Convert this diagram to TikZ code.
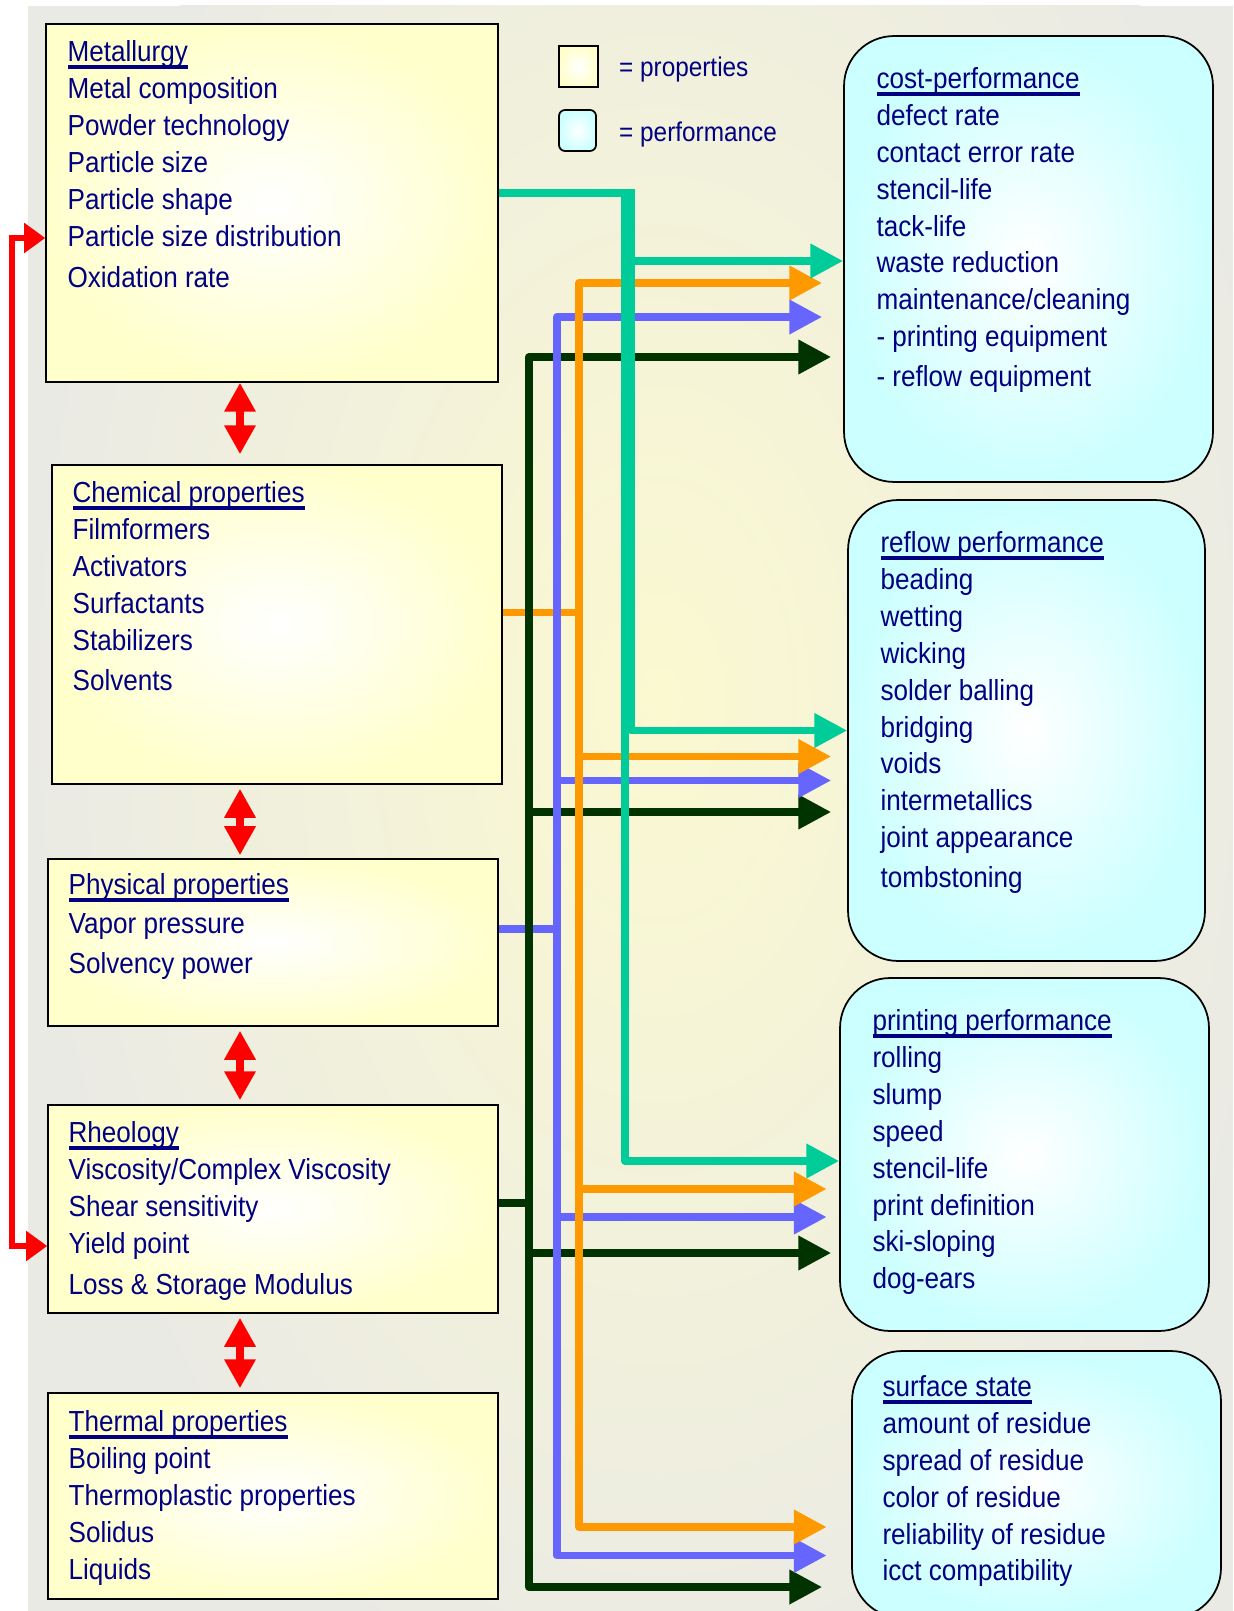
\documentclass[tikz,border=0pt]{standalone}
\usepackage{fontspec}
\setmainfont{Liberation Sans}[FakeStretch=0.9]
\usetikzlibrary{
    calc,
    arrows.meta
}
\definecolor{textNavy}{RGB}{0, 0, 128}
\definecolor{bgGray}{RGB}{234, 234, 229}
\definecolor{bgGlow}{RGB}{251, 249, 208}
\definecolor{propFill}{RGB}{255, 255, 204}
\definecolor{perfFill}{RGB}{204, 255, 255}
\definecolor{flowTeal}{RGB}{0, 204, 153}
\definecolor{flowOrange}{RGB}{255, 153, 0}
\definecolor{flowBlue}{RGB}{102, 102, 255}
\definecolor{flowGreen}{RGB}{0, 51, 0}
\definecolor{linkRed}{RGB}{255, 0, 0}

% underlined heading line
\newsavebox{\headbox}
\newcommand{\headline}[1]{\sbox{\headbox}{#1}\rlap{\rule[-4.3pt]{\wd\headbox}{2.1pt}}\usebox{\headbox}}

\tikzset{
    propbox/.style={draw=black, line width=0.9pt, inner color=white, outer color=propFill},
    perfbox/.style={draw=black, line width=1pt, rounded corners=1cm, inner color=white, outer color=perfFill},
    itemlist/.style={anchor=north west, inner sep=0pt, align=left, text=textNavy,
        font=\fontsize{16.5}{21}\selectfont},
    keytext/.style={anchor=base west, inner sep=0pt, text=textNavy,
        font=\fontsize{15.4}{18}\selectfont},
    flow/.style={line width=4.3pt, line join=round},
    linkarrow/.style={linkRed, line width=4pt,
        {Triangle[length=16.5pt, width=17pt]}-{Triangle[length=16.5pt, width=17pt]}},
    railarrow/.style={linkRed, line width=3.4pt, line join=miter,
        {Triangle[length=12pt, width=16.5pt]}-{Triangle[length=12pt, width=16.5pt]}}
}

\begin{document}
\begin{tikzpicture}[x=0.02cm, y=-0.02cm, >={Triangle[length=18.7pt, width=18.7pt]}]
        \useasboundingbox (0,0) rectangle (1233,1611);

        % Background
        \fill[white] (0,0) rectangle (1233,1611);
        \fill[bgGray] (28,6) rectangle (1233,1611);
        \begin{scope}
            \clip (28,6) rectangle (1233,1611);
            \shade[inner color=bgGlow, outer color=bgGray] (660,700) ellipse (640 and 1050);
        \end{scope}

        % Property boxes
        \node[propbox, minimum width=9.04cm, minimum height=7.16cm] (metal) at (272,203) {};
        \node[propbox, minimum width=9cm, minimum height=6.38cm] (chem) at (277,624.5) {};
        \node[propbox, minimum width=9cm, minimum height=3.34cm] (phys) at (273,942.5) {};
        \node[propbox, minimum width=9cm, minimum height=4.16cm] (rheo) at (273,1209) {};
        \node[propbox, minimum width=9cm, minimum height=4.12cm] (thermal) at (273,1496) {};

        % Performance boxes
        \node[perfbox, minimum width=7.38cm, minimum height=8.92cm] (cost) at (1028.5,259) {};
        \node[perfbox, minimum width=7.14cm, minimum height=9.22cm] (reflow) at (1026.5,730.5) {};
        \node[perfbox, minimum width=7.38cm, minimum height=7.06cm] (printing) at (1024.5,1154.5) {};
        \node[perfbox, minimum width=7.38cm, minimum height=5.34cm] (surface) at (1036.5,1484.5) {};

        % Legend
        \node[propbox, minimum width=0.78cm, minimum height=0.82cm] (keyProp) at (578.5,66.5) {};
        \node[perfbox, rounded corners=0.12cm, minimum width=0.74cm, minimum height=0.82cm] (keyPerf) at (577.5,130.5) {};
        \node[keytext] (keyPropText) at ($(keyProp.east)+(20,10.5)$) {= properties};
        \node[keytext] (keyPerfText) at ($(keyPerf.east)+(22,11.5)$) {= performance};

        % Box texts
        \node[itemlist] (metalText) at ($(metal.north west)+(22,17)$)
            {\headline{Metallurgy}\\ Metal composition\\ Powder technology\\ Particle size\\
             Particle shape\\ Particle size distribution\\[2.3pt] Oxidation rate};
        \node[itemlist] (chemText) at ($(chem.north west)+(21,17)$)
            {\headline{Chemical properties}\\ Filmformers\\ Activators\\ Surfactants\\
             Stabilizers\\[1.8pt] Solvents};
        \node[itemlist] (physText) at ($(phys.north west)+(21,15)$)
            {\headline{Physical properties}\\[1.2pt] Vapor pressure\\[1.8pt] Solvency power};
        \node[itemlist] (rheoText) at ($(rheo.north west)+(21,17)$)
            {\headline{Rheology}\\ Viscosity/Complex Viscosity\\ Shear sensitivity\\
             Yield point\\[2.3pt] Loss \& Storage Modulus};
        \node[itemlist] (thermalText) at ($(thermal.north west)+(21,18)$)
            {\headline{Thermal properties}\\ Boiling point\\ Thermoplastic properties\\
             Solidus\\ Liquids};
        \node[itemlist] (costText) at ($(cost.north west)+(33,32)$)
            {\headline{cost-performance}\\ defect rate\\ contact error rate\\ stencil-life\\
             tack-life\\ waste reduction\\ maintenance/cleaning\\ - printing equipment\\[1.8pt]
             - reflow equipment};
        \node[itemlist] (reflowText) at ($(reflow.north west)+(33,32)$)
            {\headline{reflow performance}\\ beading\\ wetting\\ wicking\\ solder balling\\
             bridging\\ voids\\ intermetallics\\ joint appearance\\[1.8pt] tombstoning};
        \node[itemlist] (printingText) at ($(printing.north west)+(33,32)$)
            {\headline{printing performance}\\ rolling\\ slump\\ speed\\ stencil-life\\
             print definition\\ ski-sloping\\ dog-ears};
        \node[itemlist] (surfaceText) at ($(surface.north west)+(31,25)$)
            {\headline{surface state}\\ amount of residue\\ spread of residue\\ color of residue\\
             reliability of residue\\ icct compatibility};

        % Bus points
        \coordinate (tealBusA) at ($(metal.east)+(132.5,-10)$);
        \coordinate (tealBusB) at ($(metal.east)+(126,-10)$);
        \coordinate (orangeBus) at ($(chem.east)+(76,-12)$);
        \coordinate (blueBus) at ($(phys.east)+(58,-13.5)$);
        \coordinate (greenBus) at ($(rheo.east)+(30,-6)$);

        % Feeders
        \draw[flow, flowTeal] (metal.east |- tealBusA) -- ($(tealBusA)+(3.75,0)$);
        \draw[flow, flowOrange] (chem.east |- orangeBus) -- (orangeBus);
        \draw[flow, flowBlue] (phys.east |- blueBus) -- (blueBus);
        \draw[flow, flowGreen, -{Round Cap[]}] (rheo.east |- greenBus) -- (greenBus);

        % Rheology
        \draw[flow, flowGreen, ->] (greenBus) |- ($(cost.west)+(-12,98)$);
        \draw[flow, flowGreen, ->] (greenBus) |- ($(reflow.west)+(-16,81.5)$);
        \draw[flow, flowGreen, ->] (greenBus) |- ($(printing.west)+(-8,98.5)$);
        \draw[flow, flowGreen, ->] (greenBus) |- ($(surface.west)+(-29,102.5)$);

        % Physical properties
        \draw[flow, flowBlue, ->] (blueBus) |- ($(cost.west)+(-21,58)$);
        \draw[flow, flowBlue, ->] (blueBus) |- ($(reflow.west)+(-16,50)$);
        \draw[flow, flowBlue, ->] (blueBus) |- ($(printing.west)+(-12.5,62.5)$);
        \draw[flow, flowBlue, ->] (blueBus) |- ($(surface.west)+(-24.5,71)$);

        % Chemical properties
        \draw[flow, flowOrange, ->] (orangeBus) |- ($(cost.west)+(-21,24)$);
        \draw[flow, flowOrange, ->] (orangeBus) |- ($(reflow.west)+(-16,26)$);
        \draw[flow, flowOrange, ->] (orangeBus) |- ($(printing.west)+(-12.5,34.5)$);
        \draw[flow, flowOrange, ->] (orangeBus) |- ($(surface.west)+(-24.5,42.5)$);

        % Metallurgy
        \draw[flow, flowTeal, ->] (tealBusA) |- ($(cost.west)+(0,2)$);
        \draw[flow, flowTeal, ->] (tealBusA) |- (reflow.west);
        \draw[flow, flowTeal, ->] (tealBusB) |- ($(printing.west)+(0,6.5)$);

        % Red links
        \coordinate (railX) at (12,700);
        \coordinate (linkX) at (240,0);
        \draw[railarrow] ($(metal.west)+(0,35)$) -| (railX) |- ($(rheo.west)+(0,37)$);
        \draw[linkarrow, shorten >=0.2cm] (metal.south -| linkX) -- (chem.north -| linkX);
        \draw[linkarrow, shorten <=0.08cm, shorten >=0.06cm] (chem.south -| linkX) -- (phys.north -| linkX);
        \draw[linkarrow, shorten <=0.08cm, shorten >=0.08cm] (phys.south -| linkX) -- (rheo.north -| linkX);
        \draw[linkarrow, shorten <=0.08cm, shorten >=0.08cm] (rheo.south -| linkX) -- (thermal.north -| linkX);
    \end{tikzpicture}
\end{document}
